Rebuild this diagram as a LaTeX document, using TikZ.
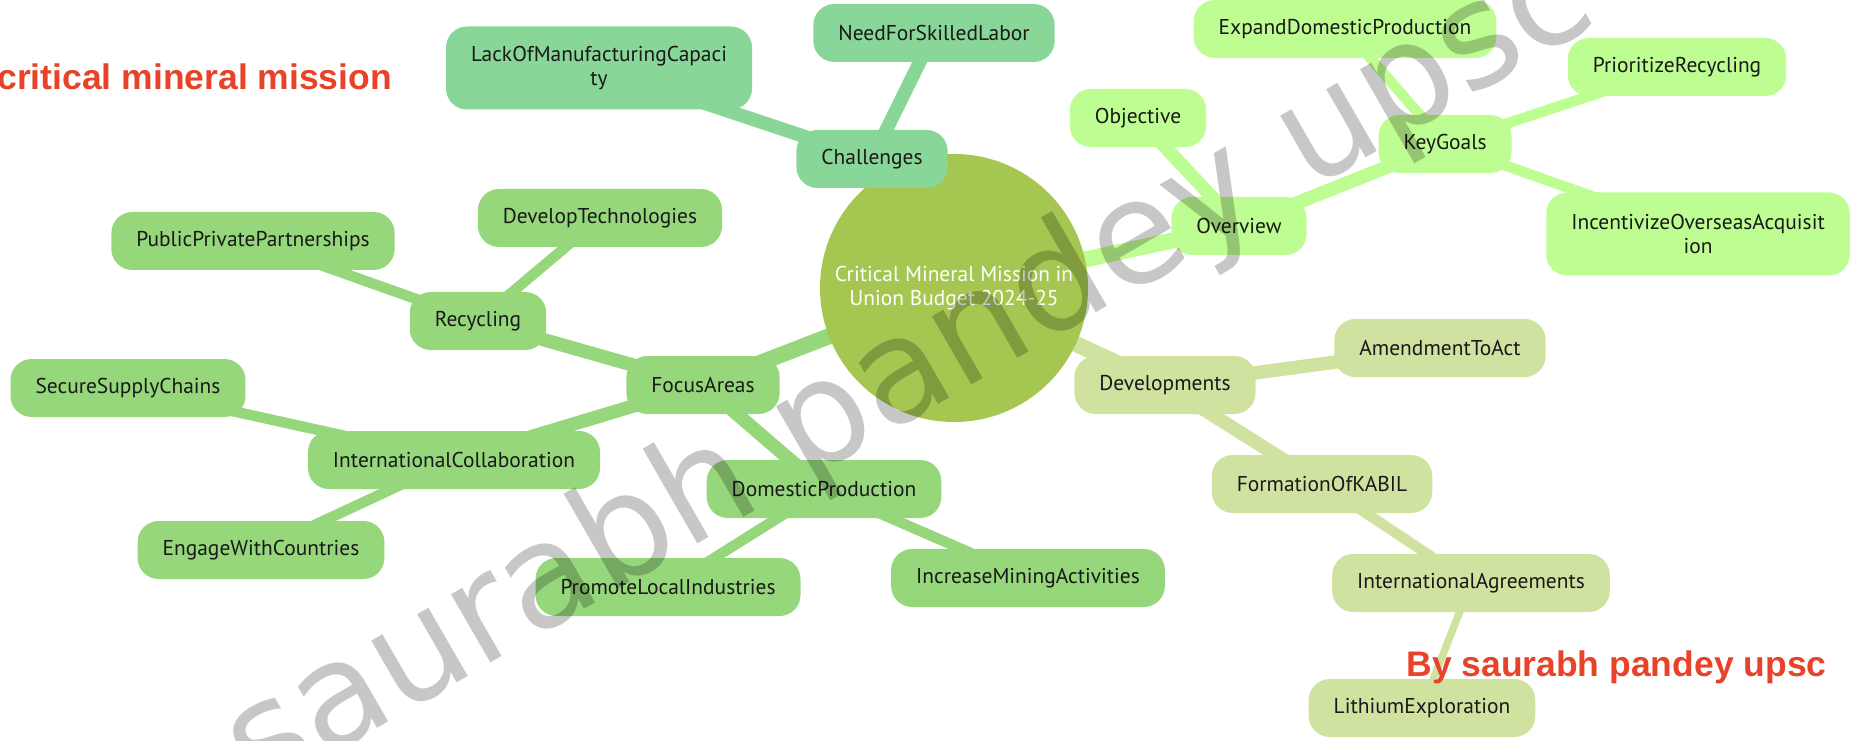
\documentclass[tikz,border=0pt]{standalone}
\usepackage{fontspec}
\setmainfont{PT Sans}
\newfontfamily\headfont{Liberation Sans}
\newfontfamily\markfont{DejaVu Sans}
\usetikzlibrary{
    shapes,
    positioning,
    backgrounds
}
\definecolor{rootgreen}{RGB}{165,198,80}
\definecolor{challengegreen}{RGB}{137,215,152}
\definecolor{overviewgreen}{RGB}{190,253,145}
\definecolor{developgreen}{RGB}{208,226,160}
\definecolor{focusgreen}{RGB}{150,215,124}
\definecolor{inkred}{RGB}{232,66,40}
\definecolor{inkblack}{RGB}{25,25,25}
\tikzset{topic/.style={
        rounded corners=0.42cm,
        minimum height=1.16cm,
        inner xsep=0.5cm,
        inner ysep=0pt,
        text=inkblack,
        font=\fontsize{12.2}{13.4}\selectfont
    }
}
\tikzset{topic-two/.style={
        topic,
        align=center,
        minimum height=1.66cm
    }
}
\tikzset{banner/.style={
        text=inkred,
        inner sep=0pt,
        font=\headfont\bfseries\fontsize{20.2}{24}\selectfont
    }
}

\begin{document}
\begin{tikzpicture}[
    link-1/.style={line width=0.32cm},
    link-2/.style={line width=0.27cm},
    link-3/.style={line width=0.21cm},
    link-4/.style={line width=0.15cm},
    watermark/.style={text=black, text opacity=0.22, inner sep=0pt, font=\markfont\fontsize{82}{90}\selectfont}
    ]

    \useasboundingbox (0, 0) rectangle (37.1, 14.8);

    % centre
    \node[circle, fill=rootgreen, text=white, minimum size=5.36cm, inner sep=0pt, align=center,
          font=\fontsize{12.2}{13.4}\selectfont] at (19.08, 9.04) (root) {Critical Mineral Mission in\\Union Budget 2024-25};

    % challenges
    \node[topic, fill=challengegreen] at (17.44, 11.62) (challenges) {Challenges};
    \node[topic-two, fill=challengegreen] at (11.98, 13.44) (lack-of-capacity) {LackOfManufacturingCapaci\\ty};
    \node[topic, fill=challengegreen] at (18.68, 14.14) (need-skilled-labor) {NeedForSkilledLabor};

    % overview
    \node[topic, fill=overviewgreen] at (24.78, 10.28) (overview) {Overview};
    \node[topic, fill=overviewgreen] at (22.76, 12.44) (objective) {Objective};
    \node[topic, fill=overviewgreen] at (28.90, 11.92) (key-goals) {KeyGoals};
    \node[topic, fill=overviewgreen] at (26.90, 14.22) (expand-production) {ExpandDomesticProduction};
    \node[topic, fill=overviewgreen] at (33.54, 13.46) (prioritize-recycling) {PrioritizeRecycling};
    \node[topic-two, fill=overviewgreen] at (33.96, 10.12) (incentivize-acquisition) {IncentivizeOverseasAcquisit\\ion};

    % developments
    \node[topic, fill=developgreen] at (23.30, 7.10) (developments) {Developments};
    \node[topic, fill=developgreen] at (28.80, 7.84) (amendment) {AmendmentToAct};
    \node[topic, fill=developgreen] at (26.44, 5.12) (formation-kabil) {FormationOfKABIL};
    \node[topic, fill=developgreen] at (29.42, 3.14) (intl-agreements) {InternationalAgreements};
    \node[topic, fill=developgreen] at (28.44, 0.64) (lithium) {LithiumExploration};

    % focus areas
    \node[topic, fill=focusgreen] at (14.06, 7.10) (focus-areas) {FocusAreas};
    \node[topic, fill=focusgreen] at (9.56, 8.38) (recycling) {Recycling};
    \node[topic, fill=focusgreen] at (12.00, 10.44) (develop-tech) {DevelopTechnologies};
    \node[topic, fill=focusgreen] at (5.06, 9.98) (public-private) {PublicPrivatePartnerships};
    \node[topic, fill=focusgreen] at (9.08, 5.60) (intl-collab) {InternationalCollaboration};
    \node[topic, fill=focusgreen] at (2.56, 7.04) (secure-supply) {SecureSupplyChains};
    \node[topic, fill=focusgreen] at (5.22, 3.80) (engage-countries) {EngageWithCountries};
    \node[topic, fill=focusgreen] at (16.48, 5.02) (domestic-production) {DomesticProduction};
    \node[topic, fill=focusgreen] at (13.36, 3.06) (promote-local) {PromoteLocalIndustries};
    \node[topic, fill=focusgreen] at (20.56, 3.24) (increase-mining) {IncreaseMiningActivities};

    \begin{scope}[on background layer]
        \draw[link-1, draw=challengegreen] (root.center) -- (challenges.center);
        \draw[link-2, draw=challengegreen] (challenges.center) -- (lack-of-capacity.center);
        \draw[link-2, draw=challengegreen] (challenges.center) -- (need-skilled-labor.center);

        \draw[link-1, draw=overviewgreen] (root.center) -- (overview.center);
        \draw[link-2, draw=overviewgreen] (overview.center) -- (objective.center);
        \draw[link-2, draw=overviewgreen] (overview.center) -- (key-goals.center);
        \draw[link-3, draw=overviewgreen] (key-goals.center) -- (expand-production.center);
        \draw[link-3, draw=overviewgreen] (key-goals.center) -- (prioritize-recycling.center);
        \draw[link-3, draw=overviewgreen] (key-goals.center) -- (incentivize-acquisition.center);

        \draw[link-1, draw=developgreen] (root.center) -- (developments.center);
        \draw[link-2, draw=developgreen] (developments.center) -- (amendment.center);
        \draw[link-2, draw=developgreen] (developments.center) -- (formation-kabil.center);
        \draw[link-3, draw=developgreen] (formation-kabil.center) -- (intl-agreements.center);
        \draw[link-4, draw=developgreen] (intl-agreements.center) -- (lithium.center);

        \draw[link-1, draw=focusgreen] (root.center) -- (focus-areas.center);
        \draw[link-2, draw=focusgreen] (focus-areas.center) -- (recycling.center);
        \draw[link-3, draw=focusgreen] (recycling.center) -- (develop-tech.center);
        \draw[link-3, draw=focusgreen] (recycling.center) -- (public-private.center);
        \draw[link-2, draw=focusgreen] (focus-areas.center) -- (intl-collab.center);
        \draw[link-3, draw=focusgreen] (intl-collab.center) -- (secure-supply.center);
        \draw[link-3, draw=focusgreen] (intl-collab.center) -- (engage-countries.center);
        \draw[link-2, draw=focusgreen] (focus-areas.center) -- (domestic-production.center);
        \draw[link-3, draw=focusgreen] (domestic-production.center) -- (promote-local.center);
        \draw[link-3, draw=focusgreen] (domestic-production.center) -- (increase-mining.center);
    \end{scope}

    \node[banner, anchor=base west] at (-0.06, 13.0) (title) {critical mineral mission};
    \node[banner, anchor=base west] at (28.12, 1.28) (byline) {By saurabh pandey upsc};

    \node[watermark, rotate=30] at (18.2, 7.3) (watermark-text) {saurabh pandey upsc};

\end{tikzpicture}
\end{document}
